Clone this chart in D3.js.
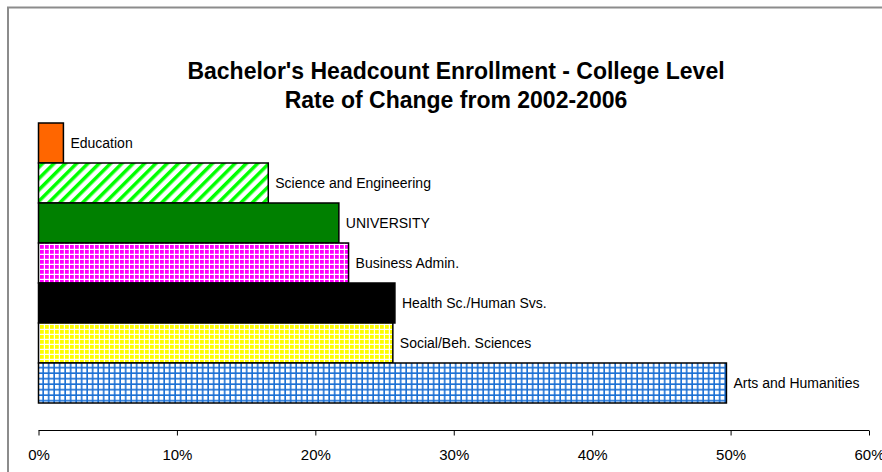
<!DOCTYPE html>
<html><head><meta charset="utf-8">
<script src="https://cdn.jsdelivr.net/npm/d3@7"></script>
<style>body{margin:0;background:#fff}svg{display:block;font-family:"Liberation Sans",Arial,sans-serif}</style>
</head><body><svg id="c" width="882" height="472"></svg>
<script>
const categories = ["Education","Science and Engineering","UNIVERSITY","Business Admin.","Health Sc./Human Svs.","Social/Beh. Sciences","Arts and Humanities"];
const values = [0.018, 0.166, 0.217, 0.224, 0.2575, 0.256, 0.497];
const fills = ["#ff6600","url(#stripeGreen)","#008000","url(#gridMagenta)","#000000","url(#gridYellow)","url(#gridBlue)"];
const tickValues = [0,0.1,0.2,0.3,0.4,0.5,0.6];
const titleLines = ["Bachelor's Headcount Enrollment - College Level","Rate of Change from 2002-2006"];

const svg = d3.select("#c");
const defs = svg.append("defs");
const p1 = defs.append("pattern").attr("id","stripeGreen").attr("patternUnits","userSpaceOnUse")
  .attr("width",8).attr("height",8).attr("patternTransform","rotate(-45)");
p1.append("rect").attr("width",8).attr("height",8).attr("fill","#fff");
p1.append("rect").attr("width",8).attr("height",3.5).attr("fill","#00ff00");
function grid(id, bg, line, lw, period){
  const p = defs.append("pattern").attr("id",id).attr("patternUnits","userSpaceOnUse").attr("width",period).attr("height",period);
  p.append("rect").attr("width",period).attr("height",period).attr("fill",bg);
  p.append("rect").attr("x",period-lw).attr("width",lw).attr("height",period).attr("fill",line);
  p.append("rect").attr("y",period-lw).attr("width",period).attr("height",lw).attr("fill",line);
}
grid("gridMagenta","#ff00ff","#ffffff",1.2,5);
grid("gridYellow","#ffff00","#ffffff",1.2,5);
grid("gridBlue","#ffffff","#1a6fd4",1.6,5.5);

svg.append("path").attr("d","M8,472 V7.5 H882").attr("fill","none").attr("stroke","#8c8c8c").attr("stroke-width",2);

svg.append("text").attr("x",456).attr("y",79).attr("text-anchor","middle").attr("font-weight","bold").attr("font-size",23).text(titleLines[0]);
svg.append("text").attr("x",456).attr("y",108).attr("text-anchor","middle").attr("font-weight","bold").attr("font-size",23).text(titleLines[1]);

const x = d3.scaleLinear().domain([0,0.6]).range([38.5,869]);
const y = d3.scaleBand().domain(categories).range([123,403]).padding(0);

svg.append("g").selectAll("rect").data(categories).join("rect")
  .attr("x",x(0)).attr("y",d=>y(d)).attr("width",(d,i)=>x(values[i])-x(0)).attr("height",y.bandwidth())
  .attr("fill",(d,i)=>fills[i]).attr("stroke","#000").attr("stroke-width",1.5);

svg.append("g").selectAll("text").data(categories).join("text")
  .attr("x",(d,i)=>x(values[i])+7).attr("y",d=>y(d)+y.bandwidth()/2+5)
  .attr("font-size",14).attr("fill","#000").text(d=>d);

const ax = svg.append("g").attr("transform","translate(0,430.5)")
  .call(d3.axisBottom(x).tickValues(tickValues).tickFormat(d3.format(".0%")).tickSize(5).tickPadding(14));
ax.select(".domain").attr("stroke","#000").attr("d","M38.5,0H869");
ax.selectAll(".tick line").attr("stroke","#000");
ax.selectAll(".tick text").attr("font-size",15).attr("font-family","Liberation Sans, Arial, sans-serif").attr("fill","#000");
</script></body></html>
